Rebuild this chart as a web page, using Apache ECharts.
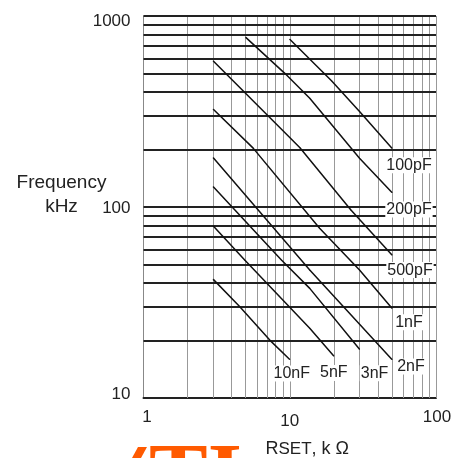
<!DOCTYPE html>
<html><head><meta charset="utf-8">
<script src="https://cdn.jsdelivr.net/npm/echarts@6/dist/echarts.min.js"></script>
<style>html,body{margin:0;padding:0;background:#fff}#c{width:452px;height:458px}</style>
</head><body><div id="c"></div>
<script>
// ---- data ----
const xTickLabels = [1, 10, 100];
const yTickLabels = [10, 100, 1000];
const xGrid = [2,3,4,5,6,7,8,9,10,20,30,40,50,60,70,80,90,100];
const yGrid = [20,30,40,50,60,70,80,90,100,200,300,400,500,600,700,800,900,1000];
const capNames = ['100pF','200pF','500pF','1nF','2nF','3nF','5nF','10nF'];
const c100pF = [[10,755],[19.3,458],[30,316],[50,203]];
const c200pF = [[5,773],[9.25,501],[13.7,371],[30,180],[50,119]];
const c500pF = [[3,581],[11.7,205],[26.2,96.4],[50,56]];
const c1nF   = [[3,325],[5.6,204],[16,77.4],[30,46.8],[50,29.5]];
const c2nF   = [[3,181],[13.7,46.8],[50,15.9]];
const c3nF   = [[3,127.7],[8.77,52.8],[13.7,37.5],[30,18.0]];
const c5nF   = [[3,79.5],[4.92,52.8],[13.7,23.2],[20,16.6]];
const c10nF  = [[3,41.8],[4.54,30.1],[7.3,20.1],[10,15.9]];
const curves = [c100pF,c200pF,c500pF,c1nF,c2nF,c3nF,c5nF,c10nF];

// ---- layout (label offsets from curve end, px) ----
const labelOffsets = [[17,17],[17,17],[18,15],[17,14],[19,7],[15,24],[0,17],[2,14]];

const FONT = '"Liberation Sans", Arial, sans-serif';
const chart = echarts.init(document.getElementById('c'), null, {renderer:'canvas'});

const curveSeries = curves.map((pts, i) => ({
  type: 'line',
  name: capNames[i],
  z: 3,
  symbol: 'circle',
  symbolSize: 1,
  showSymbol: true,
  itemStyle: {color: '#111'},
  lineStyle: {color: '#111', width: 1.5},
  silent: true,
  data: pts.map((p, j) => j === pts.length - 1 ? {
    value: p,
    label: {
      show: true, position: 'inside', offset: labelOffsets[i],
      formatter: capNames[i], color: '#222', fontSize: 16, fontFamily: FONT,
      backgroundColor: '#fff', padding: [0, 1], lineHeight: 16
    }
  } : {value: p})
}));

const gridSeries = {
  type: 'line', z: 1, silent: true, symbol: 'none',
  lineStyle: {opacity: 0}, data: [[1,10]],
  markLine: {
    z: 1, zlevel: 0,
    silent: true, symbol: ['none','none'], label: {show: false}, animation: false,
    data: [
      ...xGrid.map(v => ({xAxis: v, lineStyle: {color: '#999', width: 1, type: 'solid'}})),
      ...yGrid.map(v => ({yAxis: v, lineStyle: {color: '#222', width: 2, type: 'solid'}}))
    ]
  }
};

chart.setOption({
  animation: false,
  backgroundColor: '#fff',
  grid: {left: 143.5, right: 16, top: 16, bottom: 60, outerBoundsMode: 'none', containLabel: false},
  xAxis: {
    type: 'log', logBase: 10, min: 1, max: 100,
    axisLine: {show: true, lineStyle: {color: '#222', width: 2}},
    axisTick: {show: false},
    splitLine: {show: false},
    minorTick: {show: false},
    axisLabel: {
      color: '#222', fontSize: 17, fontFamily: FONT, margin: 11,
      formatter: v => xTickLabels.includes(v) ? ('{' + (v === 1 ? 'a' : v === 10 ? 'b' : 'c') + '|' + v + '}') : '',
      rich: {
        a: {fontSize: 17, fontFamily: FONT, color: '#222', padding: [0,0,0,7]},
        b: {fontSize: 17, fontFamily: FONT, color: '#222', padding: [4,0,0,0]},
        c: {fontSize: 17, fontFamily: FONT, color: '#222', padding: [0,0,0,2]}
      }
    },
    name: '{r|R}{s|SET}{n|, k Ω}',
    nameLocation: 'middle', nameGap: 51, nameMoveOverlap: false,
    nameTextStyle: {
      verticalAlign: 'middle', padding: [0,0,0,35],
      rich: {
        r: {fontSize: 18, fontFamily: FONT, color: '#222', verticalAlign: 'bottom', lineHeight: 18},
        s: {fontSize: 17, fontFamily: FONT, color: '#222', verticalAlign: 'bottom', lineHeight: 17},
        n: {fontSize: 18, fontFamily: FONT, color: '#222', verticalAlign: 'bottom', lineHeight: 18}
      }
    }
  },
  yAxis: {
    type: 'log', logBase: 10, min: 10, max: 1000,
    axisLine: {show: true, lineStyle: {color: '#888', width: 1}},
    axisTick: {show: false},
    splitLine: {show: false},
    minorTick: {show: false},
    axisLabel: {
      color: '#222', fontSize: 17, fontFamily: FONT, margin: 13,
      formatter: v => yTickLabels.includes(v) ? ('{' + (v === 10 ? 'a' : v === 100 ? 'b' : 'c') + '|' + v + '}') : '',
      rich: {
        a: {fontSize: 17, fontFamily: FONT, color: '#222', padding: [0,0,8,0]},
        b: {fontSize: 17, fontFamily: FONT, color: '#222', padding: [2,0,0,0]},
        c: {fontSize: 17, fontFamily: FONT, color: '#222', padding: [10,0,0,0]}
      }
    },
    name: 'Frequency\nkHz\n ',
    nameLocation: 'middle', nameRotate: 0, nameGap: 82, nameMoveOverlap: false,
    nameTextStyle: {
      fontSize: 19, fontFamily: FONT, color: '#222', align: 'center',
      verticalAlign: 'middle', lineHeight: 24
    }
  },
  graphic: [
    {type: 'polygon', silent: true, shape: {points: [[138,447],[147,447],[141,458],[132,458]]}, style: {fill: '#ff5a00'}},
    {type: 'text', silent: true, left: 149, top: 437,
     style: {text: 'TI', font: 'bold 88px "Liberation Serif", serif', fill: '#ff5a00'}}
  ],
  series: [gridSeries, ...curveSeries]
});
</script></body></html>
